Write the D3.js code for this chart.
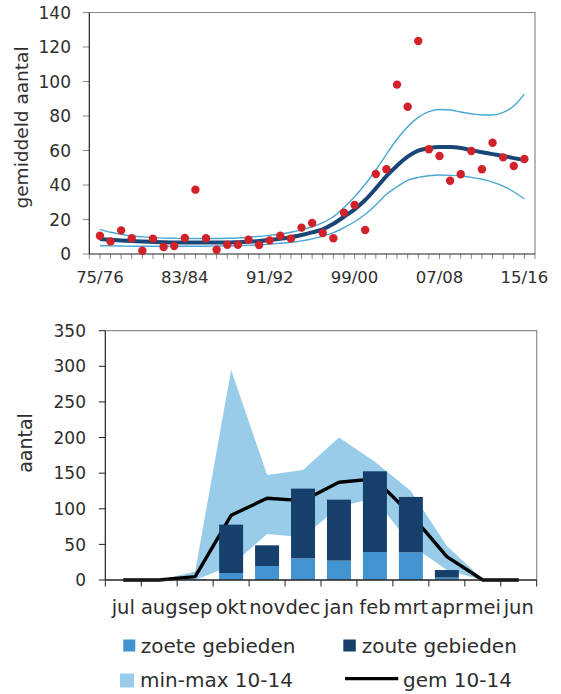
<!DOCTYPE html>
<html><head><meta charset="utf-8">
<script src="https://cdn.jsdelivr.net/npm/d3@7"></script>
<style>
html,body{margin:0;padding:0;background:#fff;}
svg{display:block;font-family:"DejaVu Sans",sans-serif;}
</style></head>
<body>
<svg id="chart" width="561" height="694"></svg>
<script>
// ---------- Top chart data ----------
const seasons = ["75/76","76/77","77/78","78/79","79/80","80/81","81/82","82/83","83/84","84/85",
  "85/86","86/87","87/88","88/89","89/90","90/91","91/92","92/93","93/94","94/95",
  "95/96","96/97","97/98","98/99","99/00","00/01","01/02","02/03","03/04","04/05",
  "05/06","06/07","07/08","08/09","09/10","10/11","11/12","12/13","13/14","14/15","15/16"];
const seasonTickLabels = ["75/76","83/84","91/92","99/00","07/08","15/16"];
const counts = [10.6,7.3,13.7,9.1,1.9,8.9,4.1,4.6,9.3,37.3,
  9.1,2.5,5.4,5.4,8.3,5.2,7.9,10.6,8.9,15.3,
  18.0,12.2,9.1,24.0,28.4,13.9,46.4,49.1,98.2,85.4,
  123.5,60.7,56.8,42.5,46.2,59.7,49.1,64.5,56.0,51.0,55.1];
const trend = [8.7,8.2,7.8,7.5,7.2,7.0,6.8,6.7,6.6,6.6,
  6.6,6.6,6.6,6.8,7.1,7.5,8.1,8.8,9.7,11.0,
  12.5,14.3,17.5,21.6,25.9,31.3,38.0,45.2,51.2,56.4,
  59.9,61.4,62.0,62.0,61.4,60.2,59.0,57.9,56.8,55.6,54.5];
const upper = [14.3,12.6,11.4,10.4,9.9,9.5,9.2,9.1,9.0,9.0,
  9.0,9.0,9.1,9.3,9.7,10.2,10.8,11.6,12.6,14.0,
  15.8,18.2,21.6,27.0,33.2,40.4,48.7,57.8,66.5,73.8,
  79.2,82.5,83.8,83.5,82.3,81.3,80.6,80.6,82.1,85.8,92.7];
const lower = [4.8,4.7,4.6,4.5,4.5,4.5,4.5,4.5,4.5,4.5,
  4.5,4.6,4.7,4.8,5.0,5.3,5.7,6.2,6.8,7.6,
  8.8,10.4,12.4,15.3,18.7,23.0,28.4,34.6,39.0,42.7,
  44.4,45.4,45.8,45.6,45.2,44.4,43.3,41.7,39.4,36.1,31.9];
const topYTicks = [0,20,40,60,80,100,120,140];

// ---------- Bottom chart data ----------
const months = ["jul","aug","sep","okt","nov","dec","jan","feb","mrt","apr","mei","jun"];
const zoete = [0,0,1,9.8,19.7,30.4,27.2,39.3,38.9,3.3,0,0];
const zoute = [0,0,0,67.9,29.0,97.9,85.6,113.3,77.7,10.7,0,0];
const gem   = [0,0,4.7,90.8,114.7,111.4,137.2,141.9,92.0,32.8,0,0];
const minV  = [0,0,0,20,64.6,60,103,115,49,14,0,0];
const maxV  = [0,0,12,295,147.5,154.5,200,166,125,47.8,1,0];
const botYTicks = [0,50,100,150,200,250,300,350];

const legendItems = ["zoete gebieden","zoute gebieden","min-max 10-14","gem 10-14"];

const C = {text:"#2e2e2e", axis:"#222", frame:"#8a8a8a", tick:"#8a8a8a",
  dot:"#d12229", trend:"#184777", band:"#4aa6d2",
  zoete:"#4393d0", zoute:"#163f6b", area:"#98cce8", gem:"#000"};

const svg = d3.select("#chart");

// ================= TOP CHART =================
{
  const L=89.3, R=535, T=12.5, B=254;
  const x = d3.scaleLinear().domain([-1, seasons.length]).range([L, R]);
  const y = d3.scaleLinear().domain([0,140]).range([B, T]);
  const g = svg.append("g");

  g.append("path").attr("d",`M${L},${T}H${R}V${B}`).attr("fill","none")
    .attr("stroke",C.frame).attr("stroke-width",1.2);

  const xt = d3.range(-1, seasons.length+1);
  g.selectAll(".xt").data(xt).join("line")
    .attr("x1",d=>x(d)).attr("x2",d=>x(d)).attr("y1",B).attr("y2",B+5)
    .attr("stroke",C.tick).attr("stroke-width",1);
  g.selectAll(".yt").data(topYTicks).join("line")
    .attr("x1",L-6.5).attr("x2",L).attr("y1",d=>y(d)).attr("y2",d=>y(d))
    .attr("stroke",C.tick).attr("stroke-width",1);

  g.append("line").attr("x1",L).attr("x2",L).attr("y1",T).attr("y2",B).attr("stroke",C.axis).attr("stroke-width",1.2);
  g.append("line").attr("x1",L).attr("x2",R).attr("y1",B).attr("y2",B).attr("stroke",C.axis).attr("stroke-width",1.2);

  g.selectAll(".yl").data(topYTicks).join("text")
    .attr("x",71).attr("y",d=>y(d)).attr("dy","0.36em").attr("text-anchor","end")
    .attr("font-size",17).attr("fill",C.text).text(d=>d);
  g.selectAll(".xl").data(seasonTickLabels).join("text")
    .attr("x",d=>x(seasons.indexOf(d))).attr("y",283).attr("text-anchor","middle")
    .attr("font-size",16.5).attr("fill",C.text).text(d=>d);
  g.append("text").attr("transform","translate(28,127.5) rotate(-90)")
    .attr("text-anchor","middle").attr("font-size",18.5).attr("fill",C.text).text("gemiddeld aantal");

  const line = arr => d3.line().x((d,i)=>x(i)).y(d=>y(d)).curve(d3.curveMonotoneX)(arr);
  g.append("path").attr("d",line(upper)).attr("fill","none").attr("stroke",C.band).attr("stroke-width",1.4);
  g.append("path").attr("d",line(lower)).attr("fill","none").attr("stroke",C.band).attr("stroke-width",1.4);
  g.append("path").attr("d",line(trend)).attr("fill","none").attr("stroke",C.trend).attr("stroke-width",4);

  g.selectAll(".dot").data(counts).join("circle")
    .attr("cx",(d,i)=>x(i)).attr("cy",d=>y(d)).attr("r",4.2).attr("fill",C.dot);
}

// ================= BOTTOM CHART =================
{
  const L=105.3, R=536.7, T=330.7, B=580;
  const x = d3.scaleBand().domain(months).range([L,R]).paddingInner(0).paddingOuter(0);
  const bw = x.bandwidth();
  const cx = m => x(m) + bw/2;
  const y = d3.scaleLinear().domain([0,350]).range([B,T]);
  const g = svg.append("g");

  g.append("path").attr("d",`M${L},${T}H${R}V${B}`).attr("fill","none")
    .attr("stroke",C.frame).attr("stroke-width",1.2);

  const area = d3.area().x((d,i)=>cx(months[i])).y0((d,i)=>y(minV[i])).y1(d=>y(d));
  g.append("path").attr("d",area(maxV)).attr("fill",C.area);

  const ln = d3.line().x((d,i)=>cx(months[i])).y(d=>y(d));
  g.append("path").attr("d",ln(gem)).attr("fill","none").attr("stroke",C.gem)
    .attr("stroke-width",3.4).attr("stroke-linejoin","round");

  const barW = bw*0.667;
  const stack = d3.stack().keys(["zoete","zoute"])(months.map((m,i)=>({m, zoete:zoete[i], zoute:zoute[i]})));
  const colors = {zoete:C.zoete, zoute:C.zoute};
  stack.forEach(s=>{
    g.selectAll(".b"+s.key).data(s.filter(d=>d[1]-d[0]>0)).join("rect")
      .attr("x",d=>cx(d.data.m)-barW/2).attr("width",barW)
      .attr("y",d=>y(d[1])).attr("height",d=>y(d[0])-y(d[1]))
      .attr("fill",colors[s.key]);
  });

  const bounds = d3.range(0, months.length+1).map(i=>L+i*bw);
  g.selectAll(".xt").data(bounds).join("line")
    .attr("x1",d=>d).attr("x2",d=>d).attr("y1",B).attr("y2",B+6.5)
    .attr("stroke",C.axis).attr("stroke-width",1);
  g.selectAll(".yt").data(botYTicks).join("line")
    .attr("x1",L-6.5).attr("x2",L).attr("y1",d=>y(d)).attr("y2",d=>y(d))
    .attr("stroke",C.axis).attr("stroke-width",1);
  g.append("line").attr("x1",L).attr("x2",L).attr("y1",T).attr("y2",B).attr("stroke",C.axis).attr("stroke-width",1.2);
  g.append("line").attr("x1",L).attr("x2",R).attr("y1",B).attr("y2",B).attr("stroke",C.axis).attr("stroke-width",1.3);

  g.selectAll(".yl").data(botYTicks).join("text")
    .attr("x",86).attr("y",d=>y(d)).attr("dy","0.36em").attr("text-anchor","end")
    .attr("font-size",17).attr("fill",C.text).text(d=>d);
  g.selectAll(".xl").data(months).join("text")
    .attr("x",d=>cx(d)).attr("y",614).attr("text-anchor","middle")
    .attr("font-size",19.5).attr("fill",C.text).text(d=>d);
  g.append("text").attr("transform","translate(31.5,443) rotate(-90)")
    .attr("text-anchor","middle").attr("font-size",19).attr("fill",C.text).text("aantal");
}

// ================= LEGEND =================
{
  const g = svg.append("g").attr("font-size",20).attr("fill",C.text);
  g.append("rect").attr("x",123.3).attr("y",639.5).attr("width",12).attr("height",12).attr("fill",C.zoete);
  g.append("text").attr("x",140.7).attr("y",652.7).text(legendItems[0]);
  g.append("rect").attr("x",343.3).attr("y",639.5).attr("width",12.5).attr("height",12).attr("fill",C.zoute);
  g.append("text").attr("x",361.7).attr("y",652.7).text(legendItems[1]);
  g.append("rect").attr("x",120).attr("y",673.5).attr("width",14).attr("height",14).attr("fill",C.area);
  g.append("text").attr("x",140).attr("y",686.7).text(legendItems[2]);
  g.append("line").attr("x1",345).attr("x2",398.3).attr("y1",678.7).attr("y2",678.7).attr("stroke",C.gem).attr("stroke-width",3.2);
  g.append("text").attr("x",403).attr("y",686.7).text(legendItems[3]);
}
</script>
</body></html>
